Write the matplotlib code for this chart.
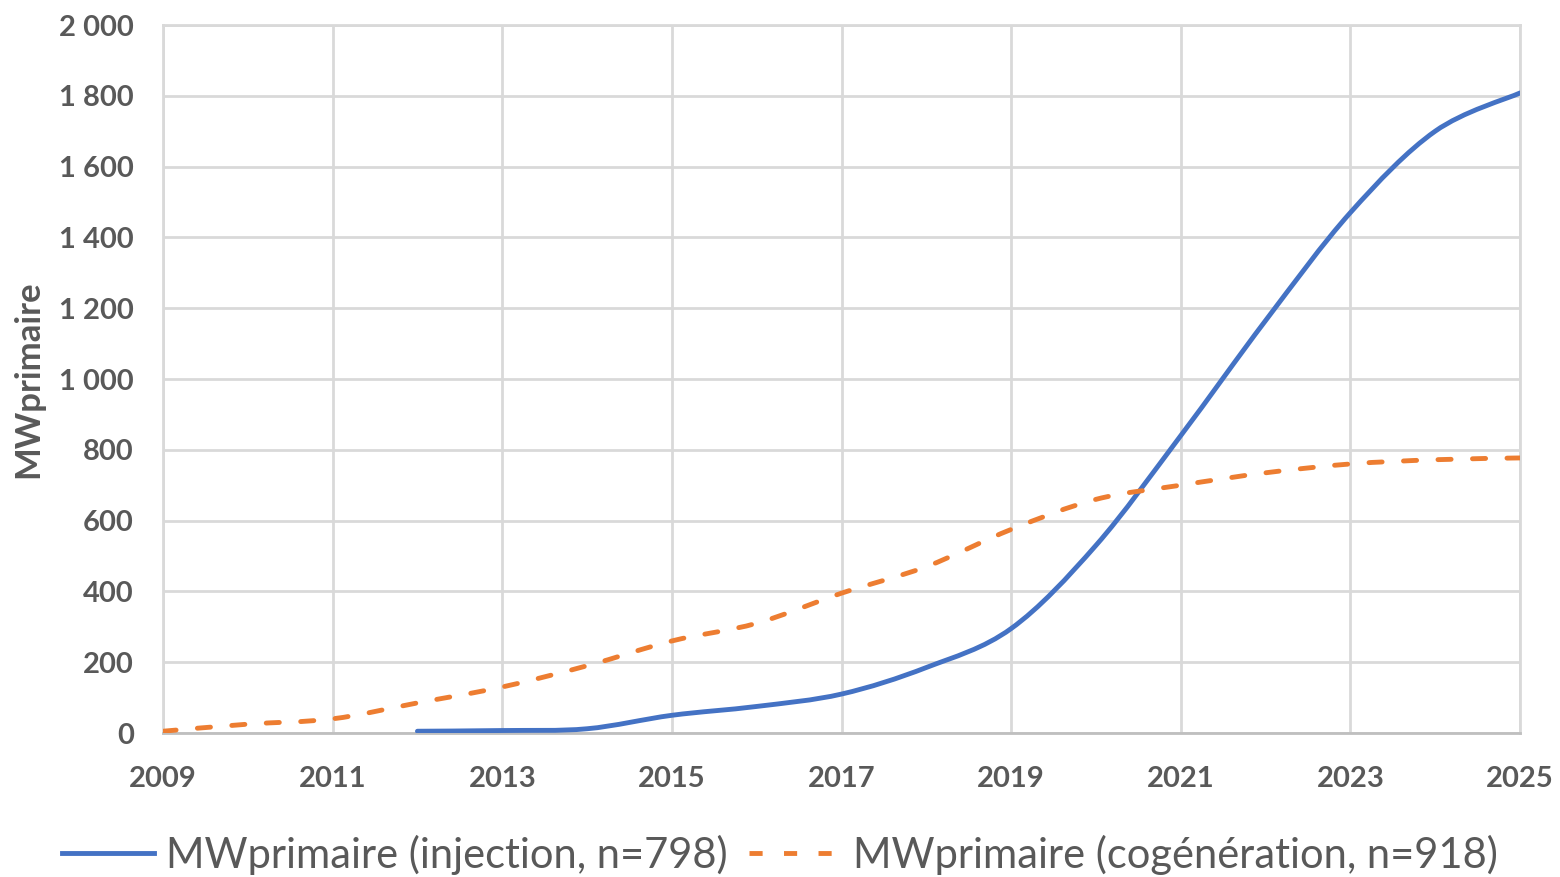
"""Recreate the MWprimaire growth chart (injection vs cogeneration)."""

import matplotlib

matplotlib.use("Agg")
import matplotlib.pyplot as plt
import numpy as np
from matplotlib.path import Path
from matplotlib.patches import PathPatch
from matplotlib.lines import Line2D
from matplotlib.ticker import FuncFormatter, FixedLocator, MultipleLocator

YEARS_INJ = [2012, 2013, 2014, 2015, 2016, 2017, 2018, 2019, 2020, 2021, 2022, 2023, 2024, 2025]
MW_INJ = [5, 7, 12, 50, 75, 110, 185, 295, 530, 840, 1165, 1470, 1700, 1808]

YEARS_COG = [2009, 2010, 2011, 2012, 2013, 2014, 2015, 2016, 2017, 2018, 2019, 2020, 2021, 2022, 2023, 2024, 2025]
MW_COG = [5, 25, 40, 85, 130, 190, 260, 310, 395, 470, 575, 660, 700, 735, 760, 772, 777]

X_TICKS = [2009, 2011, 2013, 2015, 2017, 2019, 2021, 2023, 2025]

LABEL_INJ = "MWprimaire (injection, n=798)"
LABEL_COG = "MWprimaire (cogénération, n=918)"

BLUE = "#4472c4"
ORANGE = "#ed7d31"
TEXT = "#595959"
FONT = ["Lato", "DejaVu Sans"]
LW = 3.5
DASH = (0, (2.7, 4.4))


def smooth_path(xs, ys, tension=1.0 / 6.0):
    """Catmull-Rom style Bezier path through the data points (Excel smoothing)."""
    x = np.asarray(xs, dtype=float)
    y = np.asarray(ys, dtype=float)
    verts = [(x[0], y[0])]
    codes = [Path.MOVETO]
    n = len(x)
    for i in range(n - 1):
        x0, y0 = (x[i - 1], y[i - 1]) if i > 0 else (x[i], y[i])
        x3, y3 = (x[i + 2], y[i + 2]) if i + 2 < n else (x[i + 1], y[i + 1])
        c1 = (x[i] + (x[i + 1] - x0) * tension, y[i] + (y[i + 1] - y0) * tension)
        c2 = (x[i + 1] - (x3 - x[i]) * tension, y[i + 1] - (y3 - y[i]) * tension)
        verts += [c1, c2, (x[i + 1], y[i + 1])]
        codes += [Path.CURVE4] * 3
    return Path(verts, codes)


plt.rcParams["font.family"] = FONT
fig = plt.figure(figsize=(15.6, 8.77), dpi=100)
ax = fig.add_axes([163 / 1560, 1 - 733 / 877, (1520 - 163) / 1560, (733 - 25) / 877])

ax.add_patch(PathPatch(smooth_path(YEARS_INJ, MW_INJ), facecolor="none", edgecolor=BLUE,
                       linewidth=LW, capstyle="round", zorder=3))
ax.add_patch(PathPatch(smooth_path(YEARS_COG, MW_COG), facecolor="none", edgecolor=ORANGE,
                       linewidth=LW, linestyle=DASH, capstyle="round", zorder=3))

ax.set_xlim(2009, 2025)
ax.set_ylim(0, 2000)
ax.xaxis.set_major_locator(FixedLocator(X_TICKS))
ax.yaxis.set_major_locator(MultipleLocator(200))
ax.yaxis.set_major_formatter(FuncFormatter(lambda v, _: f"{int(v):,}".replace(",", " ")))
ax.grid(True, color="#d9d9d9", linewidth=2.0)
ax.set_axisbelow(True)
for side in ("top", "right", "left"):
    ax.spines[side].set_color("#d9d9d9")
    ax.spines[side].set_linewidth(2.0)
ax.spines["bottom"].set_color("#bfbfbf")
ax.spines["bottom"].set_linewidth(2.0)
ax.tick_params(length=0, labelsize=21, labelcolor=TEXT)
for lab in ax.get_xticklabels() + ax.get_yticklabels():
    lab.set_fontweight("bold")
ax.tick_params(axis="y", pad=21)
ax.tick_params(axis="x", pad=24)
ax.set_ylabel("MWprimaire", fontsize=25, fontweight="bold", color=TEXT)
ax.yaxis.set_label_coords(-(163 - 44) / 1357, 0.5)

handles = [
    Line2D([], [], color=BLUE, linewidth=LW),
    Line2D([], [], color=ORANGE, linewidth=LW, linestyle=DASH),
]
fig.legend(handles, [LABEL_INJ, LABEL_COG], loc="center", bbox_to_anchor=(0.5, 1 - 855 / 877),
           ncol=2, frameon=False, fontsize=30, labelcolor=TEXT, handlelength=2.2,
           handletextpad=0.3, columnspacing=0.5)

fig.savefig("out.png", dpi=100)
